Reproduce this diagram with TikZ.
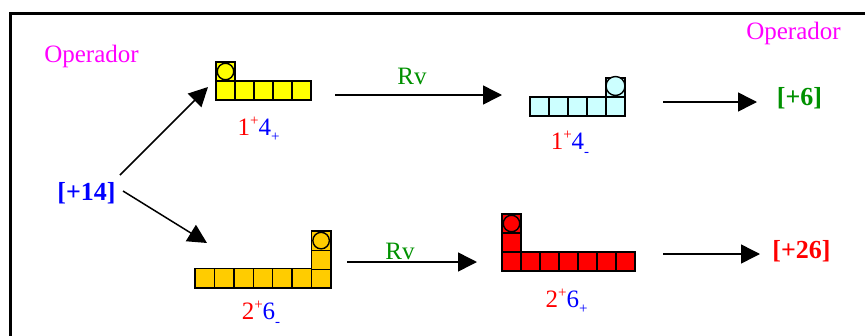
\documentclass[tikz,border=0pt]{standalone}
\usepackage{fontspec}
\setmainfont{Liberation Serif}
\usetikzlibrary{arrows.meta}
\definecolor{opmag}{RGB}{255,0,255}
\definecolor{rvgreen}{RGB}{0,145,0}
\definecolor{numblue}{RGB}{0,0,255}
\definecolor{numred}{RGB}{255,0,0}
\definecolor{yelc}{RGB}{255,255,0}
\definecolor{cyanc}{RGB}{204,255,255}
\definecolor{orac}{RGB}{255,204,0}
\definecolor{redc}{RGB}{255,0,0}
\newcommand\supp[1]{\raisebox{9.5pt}{\fontsize{15}{15}\selectfont #1}}
\newcommand\subp{\raisebox{-6.3pt}{\fontsize{15}{15}\selectfont +}}
\newcommand\subm{\raisebox{-7.5pt}{\fontsize{15}{15}\selectfont -}}
\begin{document}
\begin{tikzpicture}[x=1pt,y=-1pt,
  sq/.style={draw=black, line width=1.4pt, minimum width=19pt, minimum height=19pt, inner sep=0pt, outer sep=0pt},
  ball/.style={circle, draw=black, line width=1.4pt, minimum size=16.5pt, inner sep=0pt},
  lab/.style={font=\fontsize{25}{25}\selectfont, anchor=base, inner sep=0pt},
  res/.style={font=\fontsize{26}{26}\selectfont\bfseries, anchor=base, inner sep=0pt},
  arr/.style={line width=1.5pt, -{Triangle[length=19pt,width=19pt]}},
  frame/.style={line width=3pt}]
\useasboundingbox (0,0) rectangle (865,335);
\clip (0,0) rectangle (865,335);
% frame
\coordinate (fbl) at (10,345);
\coordinate (ftl) at (10,13.5);
\coordinate (ftr) at (875,13.5);
\draw[frame] (fbl) -- (ftl) -- (ftr);
% texts
\node[lab, text=opmag] (op1) at (91.5,62) {Operador};
\node[lab, text=opmag] (op2) at (793.5,39) {Operador};
\node[res, text=numblue] (n14) at (86.5,200) {[+14]};
\node[res, text=rvgreen] (n6) at (799.5,105) {[+6]};
\node[res, text=numred] (n26) at (801.5,258) {[+26]};
\node[lab, text=rvgreen] (rv1) at (412,84) {Rv};
\node[lab, text=rvgreen] (rv2) at (400,259) {Rv};
% yellow shape
\foreach \i in {0,...,4} \node[sq, fill=yelc] (ya\i) at ({225.5+19*\i},90.5) {};
\node[sq, fill=yelc] (yt) at (225.5,71.5) {};
\node[ball, fill=yelc] (yb) at (yt) {};
\node[lab] (l1) at (258.5,135) {\textcolor{numred}{1\supp{+}}\textcolor{numblue}{4\subp}};
% cyan shape
\foreach \i in {0,...,4} \node[sq, fill=cyanc] (ca\i) at ({539.5+19*\i},106.5) {};
\node[sq, fill=cyanc] (ct) at (615.5,87.5) {};
\node[ball, fill=cyanc, minimum size=19pt] (cb) at (615.5,86) {};
\node[lab] (l2) at (570,149) {\textcolor{numred}{1\supp{+}}\textcolor{numblue}{4\subm}};
% orange shape
\foreach \i in {0,...,6} \node[sq, fill=orac, minimum width=19.4pt, minimum height=19.4pt] (oa\i) at ({204.7+19.4*\i},278.4) {};
\node[sq, fill=orac, minimum width=19.4pt, minimum height=19.4pt] (om) at (321.1,259.5) {};
\node[sq, fill=orac, minimum width=19.4pt, minimum height=19.4pt] (ot) at (321.1,240.6) {};
\node[ball, fill=orac] (ob) at (ot) {};
\node[lab] (l3) at (261,319) {\textcolor{numred}{2\supp{+}}\textcolor{numblue}{6\subm}};
% red shape
\foreach \i in {0,...,6} \node[sq, fill=redc] (ra\i) at ({511.5+19*\i},261.5) {};
\node[sq, fill=redc] (rm) at (511.5,242.5) {};
\node[sq, fill=redc] (rt) at (511.5,223.5) {};
\node[ball, fill=redc] (rb) at (rt) {};
\node[lab] (l4) at (566.5,307) {\textcolor{numred}{2\supp{+}}\textcolor{numblue}{6\subp}};
% arrow end points
\coordinate (a1s) at (120,175); \coordinate (a1e) at (208,87);
\coordinate (a2s) at (123,191); \coordinate (a2e) at (207,243);
\coordinate (a3s) at (335,95);  \coordinate (a3e) at (502,95);
\coordinate (a4s) at (663,102); \coordinate (a4e) at (757,102);
\coordinate (a5s) at (347,262); \coordinate (a5e) at (477,262);
\coordinate (a6s) at (663,254); \coordinate (a6e) at (760,254);
\draw[arr] (a1s) -- (a1e);
\draw[arr] (a2s) -- (a2e);
\draw[arr] (a3s) -- (a3e);
\draw[arr] (a4s) -- (a4e);
\draw[arr] (a5s) -- (a5e);
\draw[arr] (a6s) -- (a6e);
\end{tikzpicture}
\end{document}
